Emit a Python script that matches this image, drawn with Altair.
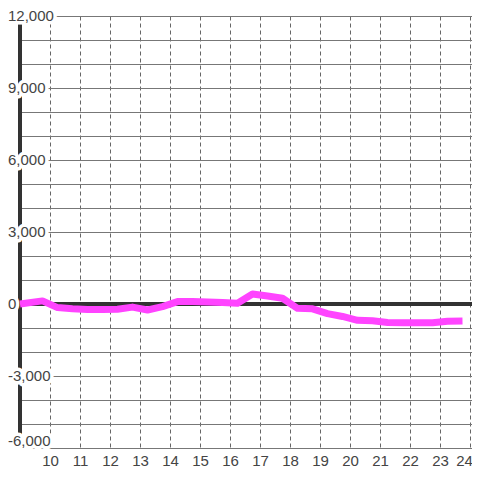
import altair as alt
import pandas as pd

hours = [9.0, 9.75, 10.25, 10.75, 11.25, 11.75, 12.25, 12.75, 13.25, 13.75,
         14.25, 14.75, 15.25, 15.75, 16.25, 16.75, 17.25, 17.75, 18.25, 18.75,
         19.25, 19.75, 20.25, 20.75, 21.25, 21.75, 22.25, 22.75, 23.25, 23.75]
values = [0, 130, -150, -200, -230, -230, -220, -130, -250, -110,
          100, 100, 80, 60, 30, 420, 330, 240, -180, -200,
          -400, -520, -680, -700, -770, -780, -780, -780, -720, -710]

y_ticks = [-6000, -3000, 0, 3000, 6000, 9000, 12000]
y_labels = ["-6,000", "-3,000", "0", "3,000", "6,000", "9,000", "12,000"]
y_grid = list(range(-6000, 12001, 1000))
x_ticks = list(range(10, 25))

X_MIN, X_MAX = 9, 9 + 452 / 30

line_df = pd.DataFrame({"h": hours, "v": values})
lab_df = pd.DataFrame({"v": y_ticks, "t": y_labels})

xs = alt.Scale(domain=[X_MIN, X_MAX], nice=False, zero=False)
ys = alt.Scale(domain=[-6000, 12000], nice=False, zero=False)

x_axis = alt.Axis(values=x_ticks, grid=True, gridColor="#666", gridDash=[4, 3],
                  gridWidth=1, ticks=False, domain=False, labelFontSize=15,
                  labelFont="Liberation Sans", labelColor="#444", labelPadding=5,
                  labelOverlap=False, labelFlush=False, title=None, format="d",
                  labelOffset=alt.ExprRef(expr="datum.value == 24 ? -6 : 0"))
y_axis = alt.Axis(values=y_grid, grid=True, gridColor="#777", gridWidth=1.2,
                  ticks=False, domain=False, labels=False, title=None)

base_line = alt.Chart(line_df).mark_line(
    color="#ff44ff", strokeWidth=7, strokeJoin="round"
).encode(
    x=alt.X("h:Q", scale=xs, axis=x_axis),
    y=alt.Y("v:Q", scale=ys, axis=y_axis),
)

zero_rule = alt.Chart(line_df).mark_rule(color="#333", strokeWidth=3).encode(
    x=alt.XDatum(X_MIN, scale=xs, axis=x_axis),
    x2=alt.X2Datum(X_MAX),
    y=alt.YDatum(0, scale=ys, axis=y_axis),
)
axis_rule = alt.Chart(line_df).mark_rule(color="#333", strokeWidth=3).encode(
    x=alt.XDatum(X_MIN, scale=xs, axis=x_axis),
    y=alt.YDatum(-6000, scale=ys, axis=y_axis),
    y2=alt.Y2Datum(12000),
)


def label_layer(halo, cond, dy):
    props = dict(align="left", baseline="middle", fontSize=15,
                 font="Liberation Sans", dy=dy)
    if halo:
        props.update(color="white", stroke="white", strokeWidth=7, strokeJoin="round")
    else:
        props.update(color="#444")
    return alt.Chart(lab_df).transform_filter(cond).mark_text(**props).encode(
        x=alt.value(-12), y=alt.Y("v:Q", scale=ys, axis=y_axis), text="t:N"
    )


top_cond = "datum.v > -6000"
bot_cond = "datum.v <= -6000"

chart = alt.layer(
    zero_rule, axis_rule, base_line,
    label_layer(True, top_cond, 0), label_layer(True, bot_cond, -7),
    label_layer(False, top_cond, 0), label_layer(False, bot_cond, -7),
).properties(
    width=452, height=432,
    autosize=alt.AutoSizeParams(type="none"),
    padding={"left": 12, "top": 8, "right": 0, "bottom": 20},
).configure_view(stroke=None)

chart.save("out.html", embed_options={"renderer": "svg", "actions": False})
